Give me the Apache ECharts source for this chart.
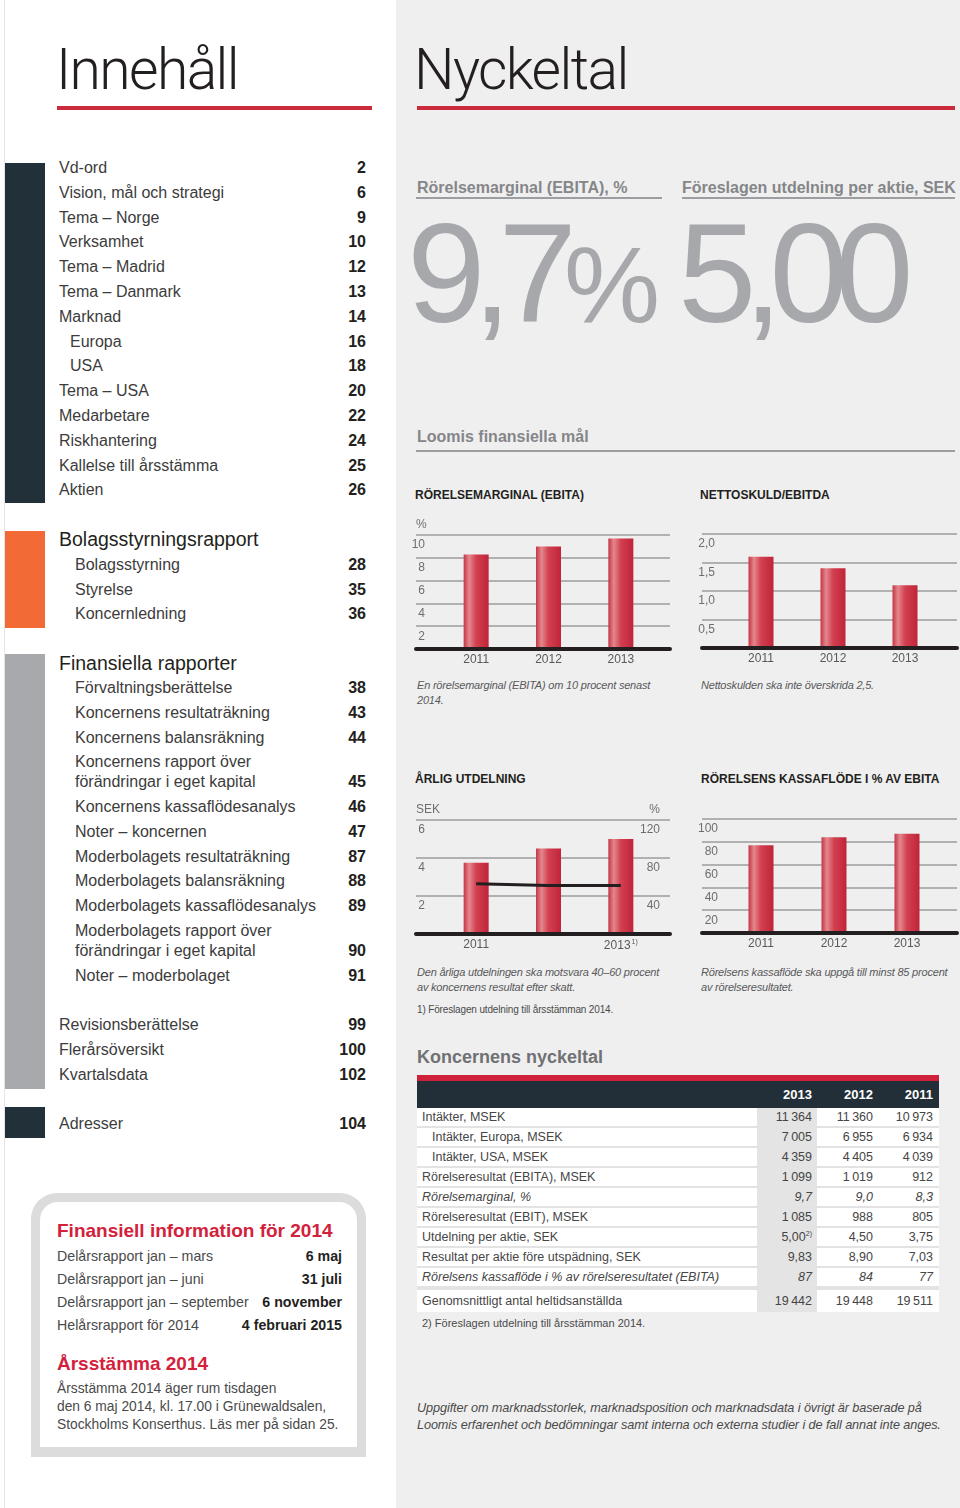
<!DOCTYPE html>
<html><head><meta charset="utf-8">
<script src="https://cdn.jsdelivr.net/npm/echarts@6/dist/echarts.min.js"></script>
<style>
html,body{margin:0;padding:0}
body{width:960px;height:1508px;position:relative;overflow:hidden;background:#fff;font-family:"Liberation Sans",Arial,Helvetica,sans-serif;color:#3c3c3c}
.a{position:absolute;white-space:nowrap}
sup{font-size:7px;vertical-align:5px;line-height:0}
#chart{position:absolute;left:0;top:0;width:960px;height:1508px;z-index:5}
</style></head><body>
<div id="chart"></div>
<script>
// ---------- chart data ----------
const years = ['2011', '2012', '2013'];
const ebitaMargin = [8.3, 9.0, 9.7];          // Rörelsemarginal (EBITA), %
const netDebtEbitda = [1.6, 1.4, 1.1];        // Nettoskuld/EBITDA
const dividendSek = [3.75, 4.50, 5.00];       // Årlig utdelning, SEK
const payoutPct = [53, 51, 51];               // Utdelning i % av resultat
const cashFlowPct = [77, 84, 87];             // Rörelsens kassaflöde i % av EBITA
const dividendYearLabels = ['2011', '2012', '2013'];
const dividendYearNotes = ['', '', '1)'];

// ---------- table data ----------
const tableYears = ['2013', '2012', '2011'];
const tableRows = ['Intäkter, MSEK', 'Intäkter, Europa, MSEK', 'Intäkter, USA, MSEK',
  'Rörelseresultat (EBITA), MSEK', 'Rörelsemarginal, %', 'Rörelseresultat (EBIT), MSEK',
  'Utdelning per aktie, SEK', 'Resultat per aktie före utspädning, SEK',
  'Rörelsens kassaflöde i % av rörelseresultatet (EBITA)', 'Genomsnittligt antal heltidsanställda'];
const tableIndent = [false, true, true, false, false, false, false, false, false, false];
const tableItalic = [false, false, false, false, true, false, false, false, true, false];
const val2013 = ['11 364', '7 005', '4 359', '1 099', '9,7', '1 085', '5,00<sup>2)</sup>', '9,83', '87', '19 442'];
const val2012 = ['11 360', '6 955', '4 405', '1 019', '9,0', '988', '4,50', '8,90', '84', '19 448'];
const val2011 = ['10 973', '6 934', '4 039', '912', '8,3', '805', '3,75', '7,03', '77', '19 511'];

// ---------- table of contents ----------
const tocMain = [['Vd-ord', '2', 0], ['Vision, mål och strategi', '6', 0], ['Tema – Norge', '9', 0],
  ['Verksamhet', '10', 0], ['Tema – Madrid', '12', 0], ['Tema – Danmark', '13', 0], ['Marknad', '14', 0],
  ['Europa', '16', 1], ['USA', '18', 1], ['Tema – USA', '20', 0], ['Medarbetare', '22', 0],
  ['Riskhantering', '24', 0], ['Kallelse till årsstämma', '25', 0], ['Aktien', '26', 0]];
const tocGov = [['Bolagsstyrning', '28'], ['Styrelse', '35'], ['Koncernledning', '36']];
const tocFin = [['Förvaltningsberättelse', '38'], ['Koncernens resultaträkning', '43'],
  ['Koncernens balansräkning', '44'], ['Koncernens rapport över|förändringar i eget kapital', '45'],
  ['Koncernens kassaflödesanalys', '46'], ['Noter – koncernen', '47'],
  ['Moderbolagets resultaträkning', '87'], ['Moderbolagets balansräkning', '88'],
  ['Moderbolagets kassaflödesanalys', '89'], ['Moderbolagets rapport över|förändringar i eget kapital', '90'],
  ['Noter – moderbolaget', '91']];
const tocEnd = [['Revisionsberättelse', '99'], ['Flerårsöversikt', '100'], ['Kvartalsdata', '102']];
const finInfo = [['Delårsrapport jan – mars', '6 maj'], ['Delårsrapport jan – juni', '31 juli'],
  ['Delårsrapport jan – september', '6 november'], ['Helårsrapport för 2014', '4 februari 2015']];

// ---------- helpers ----------
function T(x, y, s, fs, o) {
  o = o || {};
  const d = document.createElement('div');
  d.className = 'a';
  d.innerHTML = s;
  const lh = Math.round(fs * 1.15);
  d.style.fontSize = fs + 'px';
  d.style.lineHeight = lh + 'px';
  d.style.top = (y - lh / 2) + 'px';
  if (o.right) d.style.right = (960 - x) + 'px'; else d.style.left = x + 'px';
  if (o.bold) d.style.fontWeight = 'bold';
  if (o.weight) d.style.fontWeight = o.weight;
  if (o.italic) d.style.fontStyle = 'italic';
  if (o.color) d.style.color = o.color;
  if (o.ls !== undefined) d.style.letterSpacing = o.ls + 'px';
  if (o.font) d.style.fontFamily = o.font;
  document.body.appendChild(d);
  return d;
}
function R(x, y, w, h, c, extra) {
  const d = document.createElement('div');
  d.className = 'a';
  d.style.left = x + 'px'; d.style.top = y + 'px';
  d.style.width = w + 'px'; d.style.height = h + 'px';
  d.style.background = c;
  if (extra) Object.assign(d.style, extra);
  document.body.appendChild(d);
  return d;
}

// ---------- backgrounds ----------
R(396, 0, 564, 1508, '#efefef');
R(4, 0, 1, 1508, '#e4e4e4');

// ---------- left: Innehåll ----------
const RED = '#cb2a3d';
const TITLEFONT = 'Roboto, "Liberation Sans", sans-serif';
T(56, 70, 'Innehåll', 57, {font: TITLEFONT, weight: 300, color: '#231f20', ls: -1.6});
R(57, 106, 315, 4, RED);
const PGC = '#231f20';
R(5, 163, 40, 340, '#22303a');
R(5, 531, 40, 97, '#f26b36');
R(5, 654, 40, 435, '#a7a9ac');
R(5, 1107, 40, 31, '#22303a');

tocMain.forEach((it, i) => {
  const y = 168 + 24.8 * i;
  T(it[2] ? 70 : 59, y, it[0], 16);
  T(366, y, it[1], 16, {right: true, bold: true, color: PGC});
});
T(59, 539, 'Bolagsstyrningsrapport', 19.5, {color: '#231f20'});
tocGov.forEach((it, i) => {
  const y = 565 + 24.6 * i;
  T(75, y, it[0], 16);
  T(366, y, it[1], 16, {right: true, bold: true, color: PGC});
});
T(59, 663, 'Finansiella rapporter', 19.5, {color: '#231f20'});
{
  let y = 688;
  tocFin.forEach(it => {
    const lines = it[0].split('|');
    lines.forEach((l, k) => T(75, y + 20 * k, l, 16));
    y += 20 * (lines.length - 1);
    T(366, y, it[1], 16, {right: true, bold: true, color: PGC});
    y += 24.75;
  });
}
tocEnd.forEach((it, i) => {
  const y = 1025 + 24.9 * i;
  T(59, y, it[0], 16);
  T(366, y, it[1], 16, {right: true, bold: true, color: PGC});
});
T(59, 1124, 'Adresser', 16);
T(366, 1124, '104', 16, {right: true, bold: true, color: PGC});

// info box
R(31, 1193, 335, 264, '#dcdcdc', {borderRadius: '26px 26px 0 0'});
R(40, 1202, 317, 245, '#ffffff', {borderRadius: '18px 18px 0 0'});
const BOXRED = '#d3213c';
T(57, 1231, 'Finansiell information för 2014', 19, {bold: true, color: BOXRED});
finInfo.forEach((it, i) => {
  const y = 1256 + 23 * i;
  T(57, y, it[0], 14.2, {color: '#4a4a4a'});
  T(342, y, it[1], 14.2, {right: true, bold: true, color: '#231f20'});
});
T(57, 1364, 'Årsstämma 2014', 19, {bold: true, color: BOXRED});
['Årsstämma 2014 äger rum tisdagen', 'den 6 maj 2014, kl. 17.00 i Grünewaldsalen,',
  'Stockholms Konserthus. Läs mer på sidan 25.'].forEach((l, i) => T(57, 1389 + 18 * i, l, 13.8, {color: '#4a4a4a'}));

// ---------- right: Nyckeltal ----------
T(414, 70, 'Nyckeltal', 57, {font: TITLEFONT, weight: 300, color: '#231f20', ls: -1.6});
R(417, 106, 538, 4, RED);
const HGREY = '#858689';
T(417, 188, 'Rörelsemarginal (EBITA), %', 16, {bold: true, color: HGREY});
R(416, 197, 246, 2, '#9c9da0');
T(682, 188, 'Föreslagen utdelning per aktie, SEK', 16, {bold: true, color: HGREY});
R(682, 197, 273, 2, '#9c9da0');
{
  const big = document.createElement('div');
  big.className = 'a';
  big.style.cssText = 'left:407px;top:203px;font-size:141px;line-height:141px;color:#a7a8ab;letter-spacing:-13px';
  big.innerHTML = '9,7<span style="font-size:108px;letter-spacing:0">%</span>';
  document.body.appendChild(big);
  const big2 = document.createElement('div');
  big2.className = 'a';
  big2.style.cssText = 'left:678px;top:203px;font-size:141px;line-height:141px;color:#a7a8ab;letter-spacing:-13px';
  big2.textContent = '5,00';
  document.body.appendChild(big2);
}
T(417, 437, 'Loomis finansiella mål', 16, {bold: true, color: HGREY});
R(416, 450, 539, 2, '#9c9da0');

const CT = '#231f20';
T(415, 495, 'RÖRELSEMARGINAL (EBITA)', 12, {bold: true, color: CT});
T(700, 495, 'NETTOSKULD/EBITDA', 12, {bold: true, color: CT});
T(415, 779, 'ÅRLIG UTDELNING', 12, {bold: true, color: CT});
T(701, 779, 'RÖRELSENS KASSAFLÖDE I % AV EBITA', 12, {bold: true, color: CT});
const CAP = '#58595b';
T(417, 685, 'En rörelsemarginal (EBITA) om 10 procent senast', 11, {italic: true, color: CAP, ls: -0.2});
T(417, 700, '2014.', 11, {italic: true, color: CAP, ls: -0.2});
T(701, 685, 'Nettoskulden ska inte överskrida 2,5.', 11, {italic: true, color: CAP, ls: -0.2});
T(417, 972, 'Den årliga utdelningen ska motsvara 40–60 procent', 11, {italic: true, color: CAP, ls: -0.2});
T(417, 987, 'av koncernens resultat efter skatt.', 11, {italic: true, color: CAP, ls: -0.2});
T(701, 972, 'Rörelsens kassaflöde ska uppgå till minst 85 procent', 11, {italic: true, color: CAP, ls: -0.2});
T(701, 987, 'av rörelseresultatet.', 11, {italic: true, color: CAP, ls: -0.2});
T(417, 1010, '1) Föreslagen utdelning till årsstämman 2014.', 10, {color: '#4a4a4a', ls: -0.15});

// ---------- table ----------
T(417, 1057, 'Koncernens nyckeltal', 18, {bold: true, color: '#707174'});
R(417, 1075, 522, 6, '#d0213a');
R(417, 1081, 522, 27, '#232f38');
const colRight = [812, 873, 933];
tableYears.forEach((y, i) => T(colRight[i], 1094, y, 13, {right: true, bold: true, color: '#ffffff'}));
R(417, 1108, 522, 204, '#e3e3e3');
tableRows.forEach((lab, i) => {
  const last = i === tableRows.length - 1;
  const top = 1108 + 20 * i + (last ? 2 : 0);
  const h = last ? 22 : 18;
  R(417, top, 522, h, '#ffffff');
  R(757, top, 60, h, '#e4e4e4');
  const yc = top + h / 2;
  const o = {color: '#454545', italic: tableItalic[i]};
  T(tableIndent[i] ? 432 : 422, yc, lab, 12.5, o);
  [val2013, val2012, val2011].forEach((arr, k) => T(colRight[k], yc, arr[i].replace(/ /g, '&#8201;'), 12.5, Object.assign({right: true}, o)));
});
T(422, 1323, '2) Föreslagen utdelning till årsstämman 2014.', 11, {color: '#4a4a4a'});
T(417, 1408, 'Uppgifter om marknadsstorlek, marknadsposition och marknadsdata i övrigt är baserade på', 12.7, {italic: true, color: '#4a4a4a', ls: -0.1});
T(417, 1425, 'Loomis erfarenhet och bedömningar samt interna och externa studier i de fall annat inte anges.', 12.7, {italic: true, color: '#4a4a4a', ls: -0.1});

// ---------- ECharts ----------
const chart = echarts.init(document.getElementById('chart'), null, {renderer: 'canvas'});
const grids = [], xAxes = [], yAxes = [], series = [];
const barColor = {type: 'linear', x: 0, y: 0, x2: 1, y2: 0, colorStops: [
  {offset: 0, color: '#c63443'}, {offset: 0.22, color: '#e3878e'}, {offset: 0.5, color: '#d2404f'}, {offset: 1, color: '#c0243a'}]};
const gridLine = {show: true, lineStyle: {color: '#9d9d9d', width: 1.6}};
const yLab = {color: '#6d6e71', fontSize: 12, fontFamily: 'Liberation Sans'};
const xLab = {color: '#58595b', fontSize: 12, fontFamily: 'Liberation Sans'};

function addChart(c) {
  const gA = grids.length;
  grids.push({left: c.left, top: c.top, width: c.width, height: c.height});
  const gB = grids.length;
  grids.push({left: c.barLeft, top: c.top, width: c.barWidth, height: c.height});
  xAxes.push({gridIndex: gA, type: 'value', min: 0, max: 1, z: 10,
    axisLine: {show: true, onZero: false, lineStyle: {color: '#231f20', width: 4}},
    axisTick: {show: false}, axisLabel: {show: false}, splitLine: {show: false}});
  const xB = xAxes.length;
  xAxes.push({gridIndex: gB, type: 'category', data: c.cats,
    axisLine: {show: false}, axisTick: {show: false},
    axisLabel: Object.assign({margin: 5, formatter: c.xFmt, rich: c.rich}, xLab)});
  yAxes.push({gridIndex: gA, type: 'value', min: 0, max: c.max, interval: c.interval,
    name: c.name || '', nameLocation: 'end', nameGap: 4,
    nameTextStyle: {align: 'left', verticalAlign: 'bottom', color: '#6d6e71', fontSize: 12, fontFamily: 'Liberation Sans'},
    axisLine: {show: false}, axisTick: {show: false}, splitLine: gridLine,
    axisLabel: Object.assign({inside: true, align: 'right', margin: c.labMargin, verticalAlign: 'top',
      padding: [4, 0, 0, 0], showMinLabel: false, showMaxLabel: true, formatter: c.fmt}, yLab)});
  const yB = yAxes.length;
  yAxes.push({gridIndex: gB, type: 'value', min: 0, max: c.max, interval: c.interval, show: false});
  series.push({type: 'bar', xAxisIndex: xB, yAxisIndex: yB, data: c.values, barWidth: 25,
    itemStyle: {color: barColor}, silent: true, animation: false});
  return {gA, gB, xB};
}

addChart({left: 416, top: 535, width: 254, height: 114, barLeft: 440, barWidth: 217,
  cats: years, max: 10, interval: 2, values: ebitaMargin, labMargin: 9, name: '%'});
addChart({left: 702, top: 534, width: 255, height: 114, barLeft: 725, barWidth: 216,
  cats: years, max: 2, interval: 0.5, values: netDebtEbitda, labMargin: 13,
  fmt: v => v.toFixed(1).replace('.', ',')});
const div = addChart({left: 416, top: 820, width: 254, height: 114, barLeft: 440, barWidth: 217,
  cats: dividendYearLabels, max: 6, interval: 2, values: dividendSek, labMargin: 9, name: 'SEK',
  xFmt: (v, i) => dividendYearNotes[i] ? '{y|' + v + '}{s|' + dividendYearNotes[i] + '}' : v,
  rich: {y: {color: '#58595b', fontSize: 12, fontFamily: 'Liberation Sans'},
         s: {color: '#58595b', fontSize: 7, fontFamily: 'Liberation Sans', verticalAlign: 'top', padding: [0, 0, 6, 1]}}});
// right % axis for dividend chart
yAxes.push({gridIndex: div.gA, type: 'value', min: 0, max: 120, interval: 40, position: 'right',
  name: '%', nameLocation: 'end', nameGap: 4,
  nameTextStyle: {align: 'right', verticalAlign: 'bottom', padding: [0, 10, 0, 0], color: '#6d6e71', fontSize: 12, fontFamily: 'Liberation Sans'},
  axisLine: {show: false}, axisTick: {show: false}, splitLine: {show: false},
  axisLabel: Object.assign({inside: true, align: 'right', margin: 10, verticalAlign: 'top', padding: [4, 0, 0, 0],
    showMinLabel: false, showMaxLabel: true}, yLab)});
const yPct = yAxes.length;
yAxes.push({gridIndex: div.gB, type: 'value', min: 0, max: 120, interval: 40, position: 'right', show: false});
series.push({type: 'line', xAxisIndex: div.xB, yAxisIndex: yPct, data: payoutPct, symbol: 'none',
  lineStyle: {color: '#231f20', width: 3}, z: 5, silent: true, animation: false});
addChart({left: 702, top: 819, width: 255, height: 114, barLeft: 724.5, barWidth: 219,
  cats: years, max: 100, interval: 20, values: cashFlowPct, labMargin: 16});

chart.setOption({animation: false, grid: grids, xAxis: xAxes, yAxis: yAxes, series: series});
</script>
</body></html>
